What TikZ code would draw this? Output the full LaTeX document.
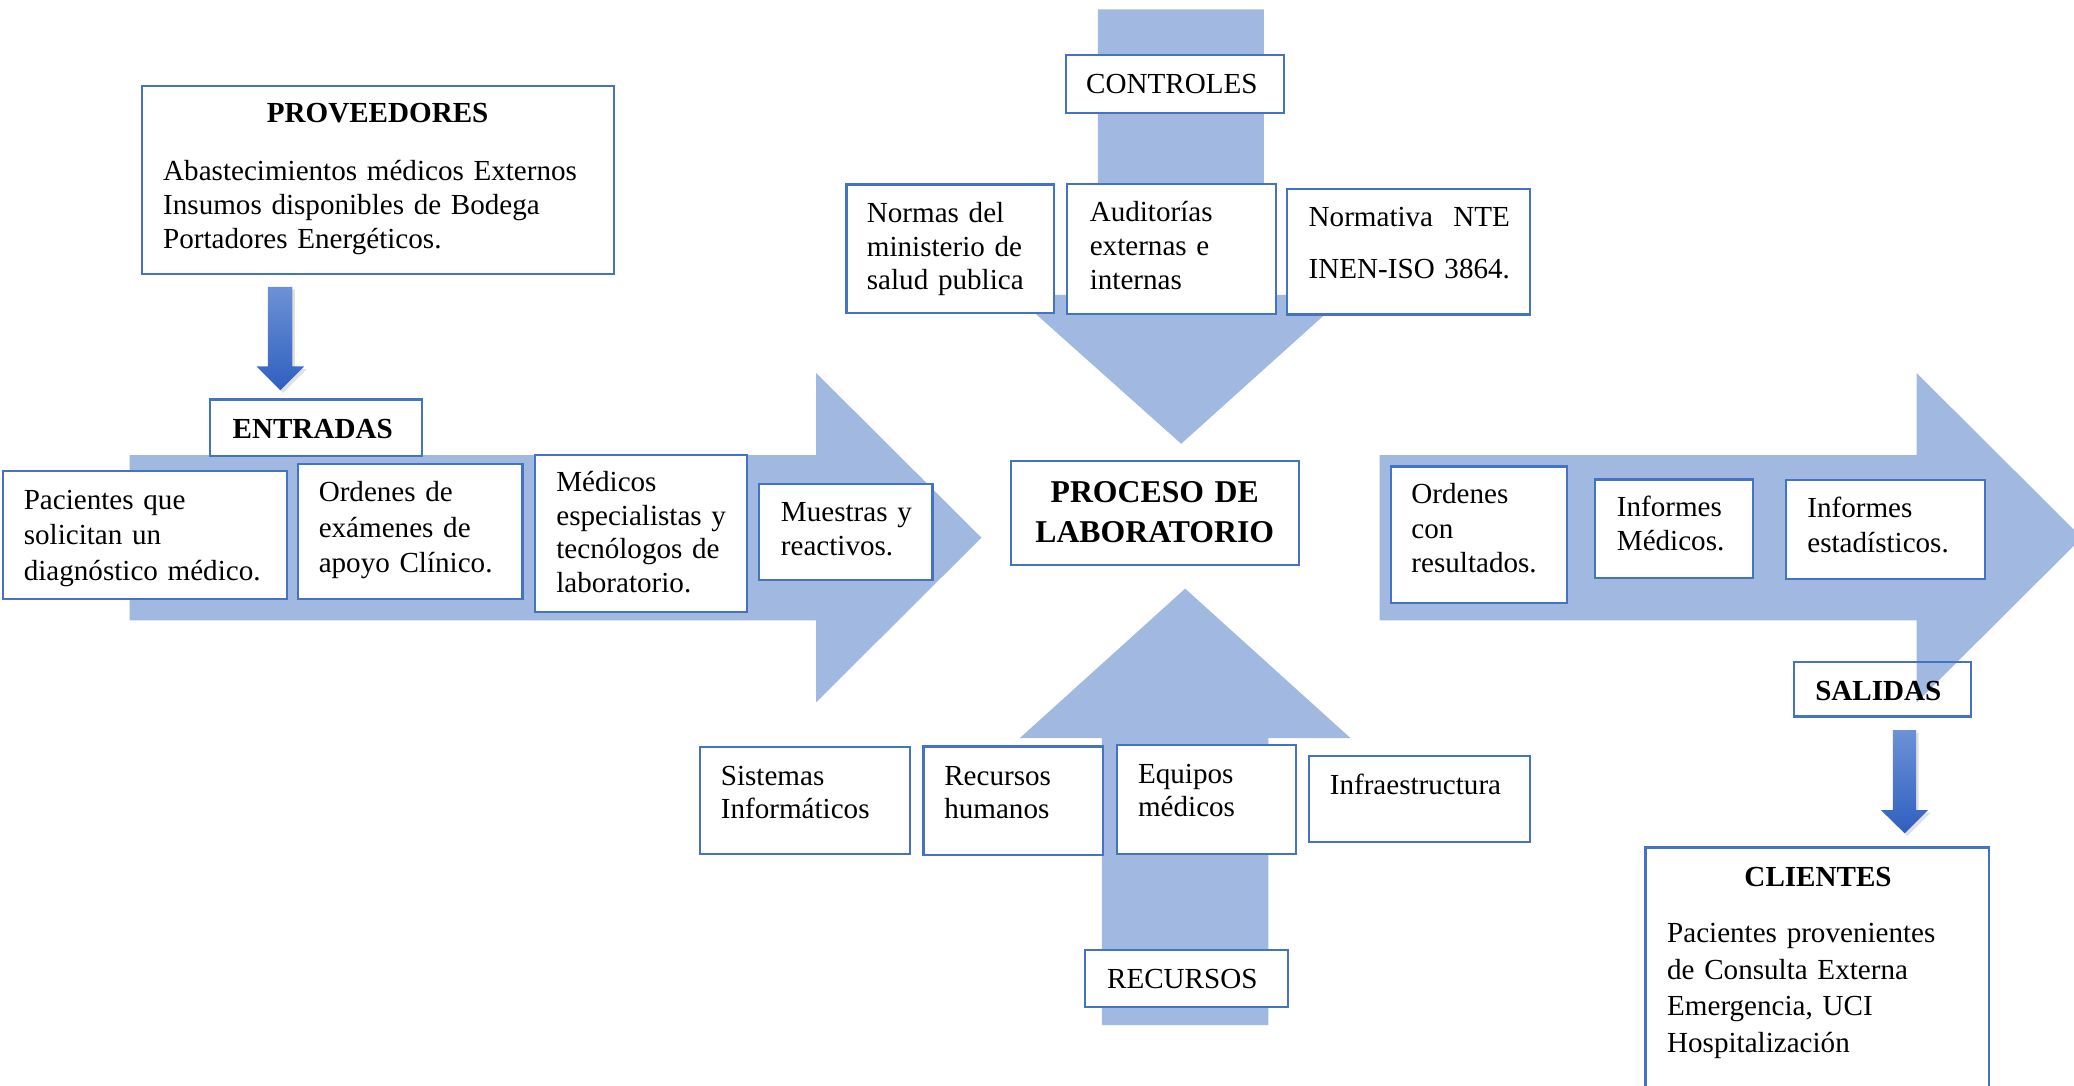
\documentclass[tikz,border=0pt]{standalone}
\usepackage{fontspec}
\setmainfont{Liberation Serif}
\usepackage{calc}
\usetikzlibrary{fit,shadows}
\definecolor{acc}{HTML}{4472C4}
\definecolor{gtop}{HTML}{6C92D6}
\definecolor{gbot}{HTML}{2F5FBF}

\begin{document}
\begin{tikzpicture}[x=0.5pt,y=-0.5pt,
  flow/.style={fill=acc, fill opacity=0.5, draw=none},
  minibar/.style={top color=gtop, bottom color=gbot, draw=none,
    drop shadow={shadow xshift=1pt, shadow yshift=-1pt, opacity=0.12, fill=black}},
  frame/.style={draw=acc, line width=0.8pt, fill=white, inner sep=0pt},
  txt/.style={anchor=base west, inner sep=0pt, align=left, text width=170pt,
    font=\fontsize{11}{#1}\selectfont},
  txt/.default=13,
  head/.style={anchor=base, inner sep=0pt, font=\fontsize{11}{13}\selectfont\bfseries},
  tag/.style={anchor=base west, inner sep=0pt, font=\fontsize{11}{13}\selectfont}
]
\useasboundingbox (0,0) rectangle (1568,821);
\clip (0,0) rectangle (1568,821);

% frame of the outputs label sits below the translucent output arrow
\node[frame, fit={(1356.5,500.4) (1490,541.7)}] (sal) {};

% wide process arrows
\fill[flow] (98,344) -- (617,344) -- (617,282) -- (742,406.5) -- (617,531)
  -- (617,469) -- (98,469) -- cycle;
\fill[flow] (1043,344) -- (1449,344) -- (1449,282) -- (1574,406.5) -- (1449,531)
  -- (1449,469) -- (1043,469) -- cycle;
\fill[flow] (830,7) -- (955.6,7) -- (955.6,223) -- (1018,223) -- (893,335.5)
  -- (767,223) -- (830,223) -- cycle;
\fill[flow] (833,775) -- (959,775) -- (959,558) -- (1021,558) -- (896,445)
  -- (771,558) -- (833,558) -- cycle;

% small gradient arrows
\shade[minibar] (202.6,216.8) -- (221,216.8) -- (221,277) -- (230,277) -- (212,295)
  -- (194,277) -- (202.6,277) -- cycle;
\shade[minibar] (1431,552) -- (1448.6,552) -- (1448.6,612.4) -- (1457.7,612.4)
  -- (1440,630) -- (1422,612.4) -- (1431,612.4) -- cycle;

% boxes
\node[frame, fit={(107.5,65) (464.5,207)}] (prov) {};
\node[frame, fit={(159,302) (319,345)}] (entr) {};
\node[frame, fit={(2.5,356) (217,453)}] (pac) {};
\node[frame, fit={(225,350.5) (395,452.6)}] (ord) {};
\node[frame, fit={(404.4,343.7) (565,462.5)}] (med) {};
\node[frame, fit={(574,366) (705,438.4)}] (mue) {};
\node[frame, fit={(764,348.6) (982,427)}] (proc) {};
\node[frame, fit={(806,41.4) (970.5,85.4)}] (ctrl) {};
\node[frame, fit={(640,139.5) (797,236.7)}] (nor) {};
\node[frame, fit={(807,139) (964.6,237.3)}] (aud) {};
\node[frame, fit={(972.8,143.2) (1156.4,237.8)}] (nte) {};
\node[frame, fit={(1051.4,352.7) (1184.7,456)}] (ordc) {};
\node[frame, fit={(1205.6,362.5) (1325,436.7)}] (infm) {};
\node[frame, fit={(1350.5,363.2) (1501,437.4)}] (infe) {};
\node[frame, fit={(1244,640.7) (1504,850)}] (cli) {};
\node[frame, fit={(529,564.7) (688,645.6)}] (sis) {};
\node[frame, fit={(698.2,564.4) (834,646.6)}] (rech) {};
\node[frame, fit={(844.2,563) (980,645.3)}] (equ) {};
\node[frame, fit={(989.3,571.7) (1156.4,636.4)}] (inf) {};
\node[frame, fit={(820.3,718.3) (973.5,761.4)}] (rec) {};

% texts
\node[head] at (285.5,92.5) {PROVEEDORES};
\node[txt=12.75] at (123,136.5) {Abastecimientos médicos Externos\\Insumos disponibles de Bodega\\Portadores Energéticos.};
\node[head, anchor=base west] at (175.5,331.5) {ENTRADAS};
\node[txt=13.5] at (17.6,385) {Pacientes que\\solicitan un\\diagnóstico médico.};
\node[txt=13.5] at (240.6,379) {Ordenes de\\exámenes de\\apoyo Clínico.};
\node[txt=12.75] at (420.2,371.5) {Médicos\\especialistas y\\tecnólogos de\\laboratorio.};
\node[txt=13] at (590,394) {Muestras y\\reactivos.};
\node[anchor=base, inner sep=0pt, align=center, text width=120pt,
  font=\fontsize{12}{15}\selectfont\bfseries] at (873,380) {PROCESO DE\\LABORATORIO};
\node[tag, anchor=base] at (886,70.5) {CONTROLES};
\node[txt=12.65] at (655,168.5) {Normas del\\ministerio de\\salud publica};
\node[txt=12.75] at (823.5,167.5) {Auditorías\\externas e\\internas};
\node[txt=19.5] at (989,171.5) {\makebox[\widthof{INEN-ISO 3864.}][s]{Normativa\hfill NTE}\\INEN-ISO 3864.};
\node[txt=13] at (1066.7,381) {Ordenes\\con\\resultados.};
\node[txt=12.7] at (1222,390.5) {Informes\\Médicos.};
\node[txt=13] at (1366,391.5) {Informes\\estadísticos.};
\node[head, anchor=base west] at (1372,529.3) {SALIDAS};
\node[head] at (1374.5,670) {CLIENTES};
\node[txt=13.85] at (1260,712.5) {Pacientes provenientes\\de Consulta Externa\\Emergencia, UCI\\Hospitalización};
\node[txt=12.7] at (544.6,593.5) {Sistemas\\Informáticos};
\node[txt=12.7] at (713.5,593.5) {Recursos\\humanos};
\node[txt=12.65] at (860,592.2) {Equipos\\médicos};
\node[tag] at (1005,601) {Infraestructura};
\node[tag] at (836.6,747) {RECURSOS};
\end{tikzpicture}
\end{document}
